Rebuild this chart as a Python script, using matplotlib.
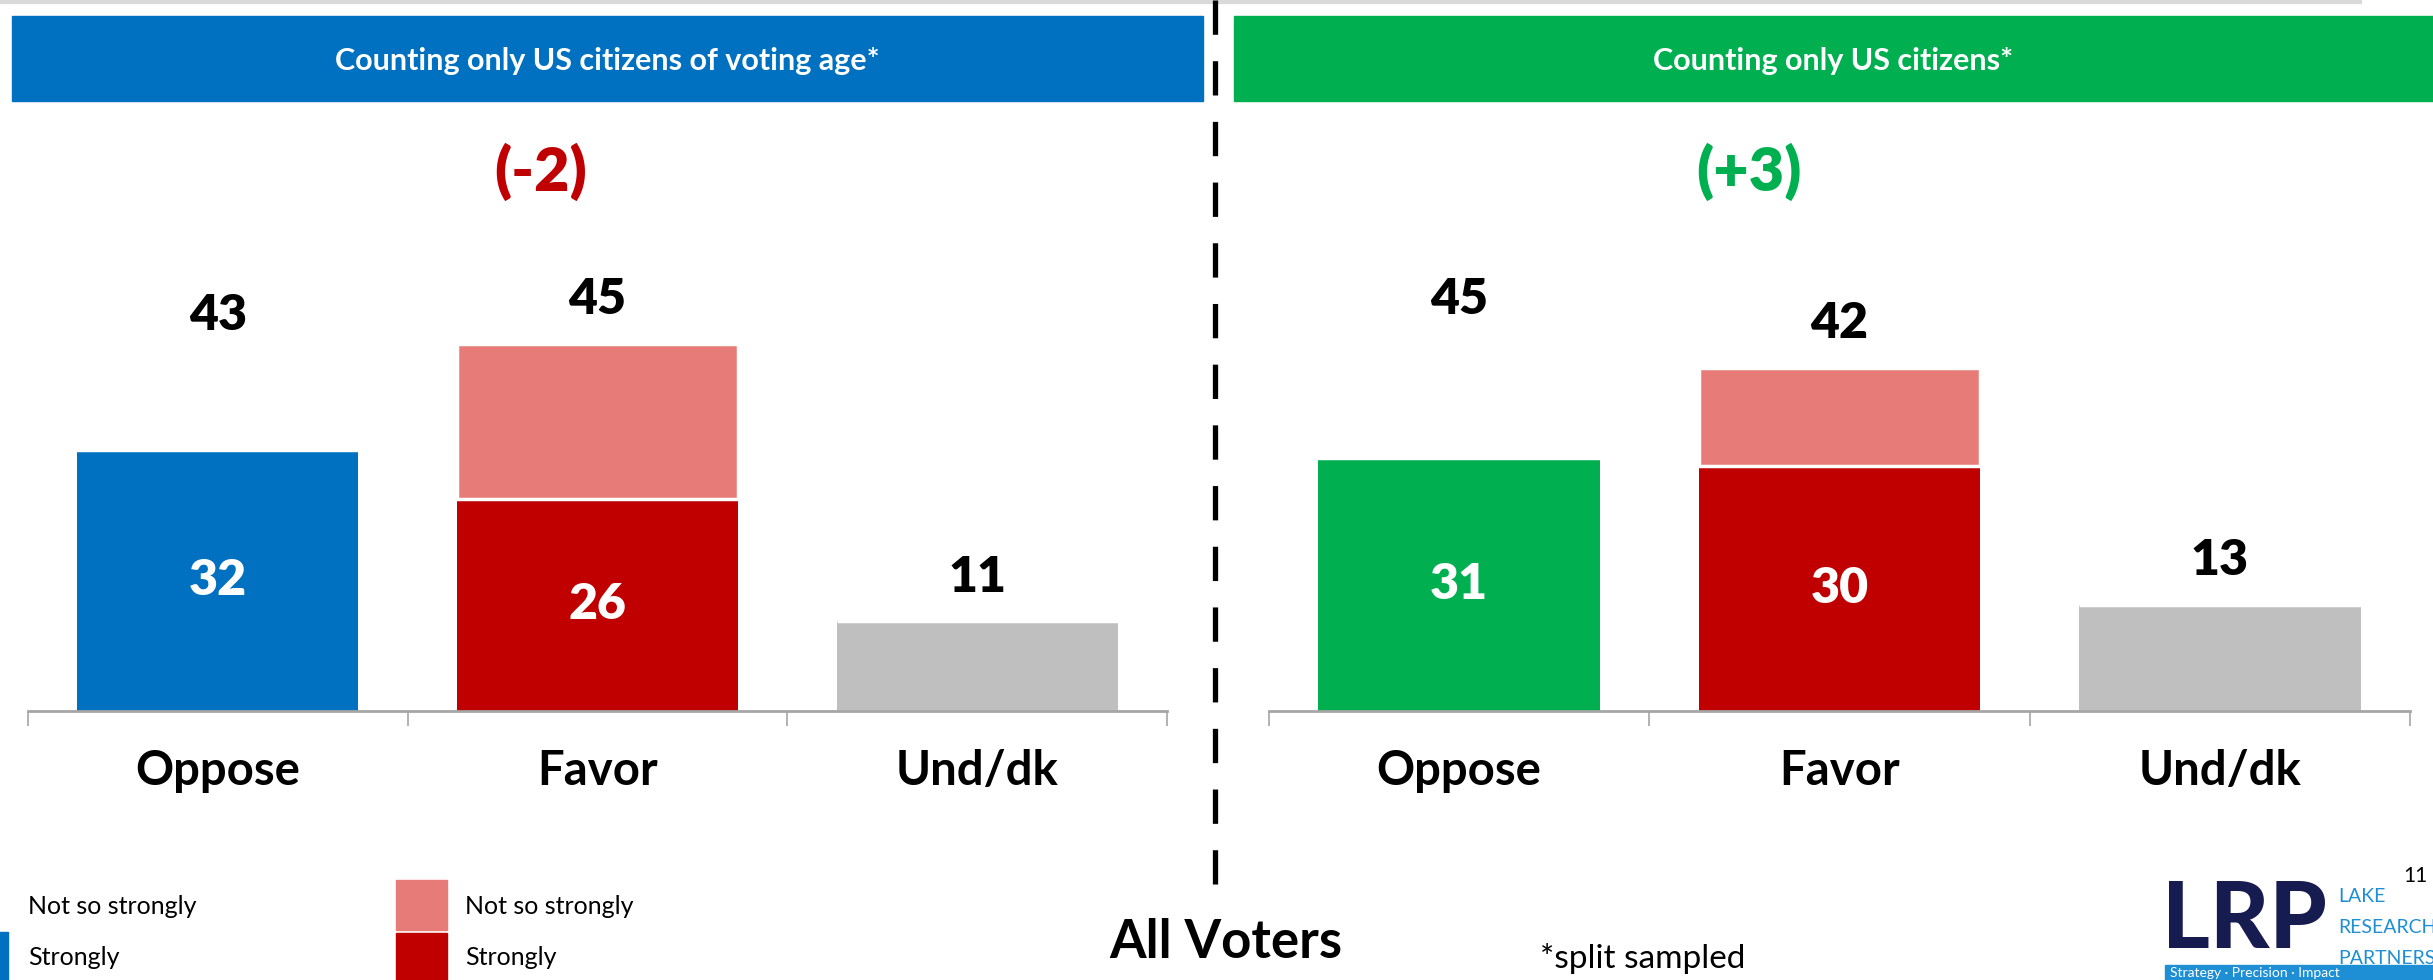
import matplotlib.pyplot as plt
from matplotlib.patches import Rectangle
from matplotlib.lines import Line2D

plt.rcParams['font.family'] = ['Lato', 'DejaVu Sans']

# Data
categories = ['Oppose', 'Favor', 'Und/dk']
panel_titles = ['Counting only US citizens of voting age*', 'Counting only US citizens*']
net_labels = ['(-2)', '(+3)']

# strongly / not so strongly per panel (Und/dk has only one part)
strongly = [[32, 26, 11], [31, 30, 13]]
not_so = [[11, 19, 0], [14, 12, 0]]
totals = [[43, 45, 11], [45, 42, 13]]

BLUE = '#0070C0'
GREEN = '#00B050'
RED = '#C00000'
PINK = '#E67B77'
GRAY = '#BFBFBF'
NAVY = '#161B50'
LIGHTBLUE = '#1E8FD5'

W, H = 2433, 980


def fx(x):
    return x / W


def fy(y):
    return 1 - y / H


fig = plt.figure(figsize=(W / 100, H / 100), dpi=100)

# thin grey line at the very top
fig.add_artist(Line2D([0, fx(2360)], [fy(2), fy(2)], color='#D9D9D9', lw=3))

panel_colors = [BLUE, GREEN]
net_colors = [RED, GREEN]
panel_x = [(28, 1167), (1269, 2410)]
banner_x = [(12, 1203), (1234, 2433)]
net_x = [541, 1749]

for p in range(2):
    x0, x1 = panel_x[p]
    ax = fig.add_axes([fx(x0), fy(711), fx(x1) - fx(x0), 0.5])
    xs = range(len(categories))
    pc = panel_colors[p]
    strong_colors = [pc, RED, GRAY]
    notso_colors = ['white', PINK, 'white']
    ax.bar(xs, strongly[p], width=0.74, color=strong_colors, edgecolor='white', linewidth=0)
    ax.bar(xs, not_so[p], width=0.74, bottom=strongly[p], color=notso_colors,
           edgecolor='white', linewidth=2.5)

    for i in xs:
        ax.text(i, totals[p][i] + 5.4, str(totals[p][i]), ha='center', va='center',
                fontsize=36, fontweight='heavy', color='black')
        if i < 2:
            ax.text(i, strongly[p][i] / 2, str(strongly[p][i]), ha='center', va='center',
                    fontsize=36, fontweight='heavy', color='white')

    ax.set_xlim(-0.5, 2.5)
    ax.set_ylim(0, 60)
    ax.set_yticks([])
    ax.set_xticks(list(xs))
    ax.set_xticklabels(categories, fontsize=34, fontweight='bold')
    ax.tick_params(axis='x', which='major', length=0, pad=27)
    ax.set_xticks([-0.5, 0.5, 1.5, 2.5], minor=True)
    ax.tick_params(axis='x', which='minor', length=11, width=1.2, color='#A6A6A6', direction='out')
    for s in ['top', 'left', 'right']:
        ax.spines[s].set_visible(False)
    ax.spines['bottom'].set_color('#A6A6A6')
    ax.spines['bottom'].set_linewidth(2)
    ax.patch.set_alpha(0)

    # banner
    bx0, bx1 = banner_x[p]
    fig.add_artist(Rectangle((fx(bx0), fy(101)), fx(bx1) - fx(bx0), fy(16) - fy(101),
                             transform=fig.transFigure, color=pc, zorder=0))
    fig.text(fx((bx0 + bx1) / 2), fy(61), panel_titles[p], ha='center', va='center',
             fontsize=22, fontweight='bold', color='white')

    fig.text(fx(net_x[p]), fy(172), net_labels[p], ha='center', va='center',
             fontsize=44, fontweight='heavy', color=net_colors[p])

# dashed divider
fig.add_artist(Line2D([fx(1215), fx(1215)], [fy(0), fy(905)], color='black', lw=3.8,
                      linestyle=(0, (6.5, 5.0))))

# legends
fig.add_artist(Rectangle((fx(-60), fy(980)), fx(68), fy(932) - fy(980),
                         transform=fig.transFigure, color=BLUE))
fig.text(fx(28), fy(906), 'Not so strongly', ha='left', va='center', fontsize=18)
fig.text(fx(28), fy(957), 'Strongly', ha='left', va='center', fontsize=18)

fig.add_artist(Rectangle((fx(396), fy(930)), fx(51), fy(880) - fy(930),
                         transform=fig.transFigure, color=PINK))
fig.add_artist(Rectangle((fx(396), fy(982)), fx(51), fy(933) - fy(982),
                         transform=fig.transFigure, color=RED))
fig.text(fx(465), fy(906), 'Not so strongly', ha='left', va='center', fontsize=18)
fig.text(fx(465), fy(957), 'Strongly', ha='left', va='center', fontsize=18)

fig.text(fx(1226), fy(942), 'All Voters', ha='center', va='center',
         fontsize=38, fontweight='bold')
fig.text(fx(1643), fy(958), '*split sampled', ha='center', va='center', fontsize=24)

# logo
fig.text(fx(2162), fy(922), 'LRP', ha='left', va='center', fontsize=66,
         fontweight='black', color=NAVY)
for k, word in enumerate(['LAKE', 'RESEARCH', 'PARTNERS']):
    fig.text(fx(2338), fy(896 + 31 * k), word, ha='left', va='center',
             fontsize=14, color=LIGHTBLUE)
fig.add_artist(Rectangle((fx(2165), fy(980)), fx(268), fy(965) - fy(980),
                         transform=fig.transFigure, color=LIGHTBLUE))
fig.text(fx(2170), fy(973), 'Strategy · Precision · Impact', ha='left', va='center',
         fontsize=10, color='white')
fig.text(fx(2403), fy(876), '11', ha='left', va='center', fontsize=15)

fig.savefig('out.png', dpi=100)
